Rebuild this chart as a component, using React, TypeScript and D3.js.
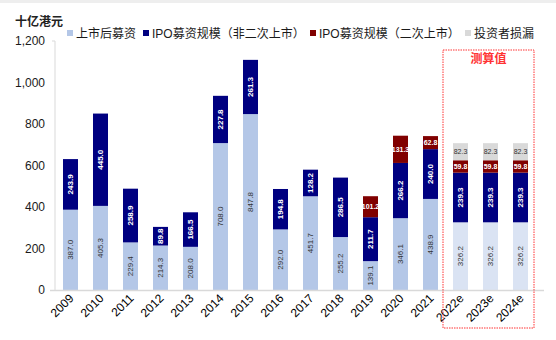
import React from "react";
import * as d3 from "d3";

const years = ["2009","2010","2011","2012","2013","2014","2015","2016","2017","2018","2019","2020","2021","2022e","2023e","2024e"];
const postListing = [387.0,405.3,229.4,214.3,208.0,708.0,847.8,292.0,451.7,255.2,139.1,346.1,438.9,326.2,326.2,326.2];
const ipoPrimary = [243.9,445.0,258.9,89.8,166.5,227.8,261.3,194.8,128.2,286.5,211.7,266.2,240.0,239.3,239.3,239.3];
const ipoSecondary = [0,0,0,0,0,0,0,0,0,0,101.2,131.3,62.8,59.8,59.8,59.8];
const investorLoss = [0,0,0,0,0,0,0,0,0,0,0,0,0,82.3,82.3,82.3];
const yTicks = [0,200,400,600,800,1000,1200];
const seriesNames = ["上市后募资","IPO募资规模（非二次上市）","IPO募资规模（二次上市）","投资者损漏"];
const estimateLabel = "测算值";
const unitLabel = "十亿港元";

const W = 556, H = 340;
const FONT = "'Liberation Sans', Arial, 'Noto Sans CJK SC', sans-serif";

export default function App() {
  const x = d3.scaleBand<string>().domain(years).range([55.5, 535.5]).paddingInner(0.5).paddingOuter(0.25);
  const y = d3.scaleLinear().domain([0, 1200]).range([290, 41]);
  const fmt = d3.format(",");

  const series = [postListing, ipoPrimary, ipoSecondary, investorLoss];
  const stackData = years.map((yr, i) => ({ yr, s0: postListing[i], s1: ipoPrimary[i], s2: ipoSecondary[i], s3: investorLoss[i] }));
  const stack = d3.stack<any>().keys(["s0","s1","s2","s3"])(stackData);

  const colorFor = (k: number, i: number) => {
    const est = years[i].endsWith("e");
    if (k === 0) return est ? "#DAE3F3" : "#B4C7E7";
    if (k === 1) return "#000080";
    if (k === 2) return "#800000";
    return "#D9D9D9";
  };
  const legendColors = ["#B4C7E7", "#000080", "#800000", "#D9D9D9"];
  const legendX = [67, 143, 310, 465];

  const bw = x.bandwidth();
  const boxL = x("2022e")! - 10, boxR = x("2024e")! + bw + 6;

  return (
    <svg width={W} height={H} style={{ position: "absolute", left: 0, top: 0, background: "#fff" }} fontFamily={FONT}>
      <rect x={0} y={0} width={W} height={H} fill="#fff" />
      <rect x={0} y={0} width={W} height={3} fill="#EEEEEE" />
      <text x={15} y={26} fontSize={12} fill="#222" fontWeight="bold">{unitLabel}</text>
      {seriesNames.map((n, k) => (
        <g key={n}>
          <rect x={legendX[k]} y={30} width={6} height={6} fill={legendColors[k]} />
          <text x={legendX[k] + 9} y={37.5} fontSize={12} fill="#1a1a1a">{n}</text>
        </g>
      ))}
      {/* axes */}
      <line x1={55} x2={55} y1={41} y2={290} stroke="#D9D9D9" strokeWidth={1} />
      <line x1={52} x2={55} y1={41} y2={41} stroke="#D9D9D9" strokeWidth={1} />
      {yTicks.map(t => (
        <text key={t} x={45} y={y(t) + 4} fontSize={12} fill="#1a1a1a" textAnchor="end">{fmt(t)}</text>
      ))}
      {/* bars */}
      {stack.map((layer, k) => layer.map((d, i) => {
        const v = series[k][i];
        if (!v) return null;
        const x0 = x(years[i])!;
        const yTop = y(d[1]), yBot = y(d[0]);
        const h = yBot - yTop;
        const cx = x0 + bw / 2, cy = (yTop + yBot) / 2;
        const txtColor = k === 1 || k === 2 ? "#fff" : "#333";
        const horizontal = k >= 2;
        return (
          <g key={k + "-" + i}>
            <rect x={x0} y={yTop} width={bw} height={h} fill={colorFor(k, i)} />
            {horizontal ? (
              <text x={cx} y={cy + 2.6} fontSize={7} fill={txtColor} textAnchor="middle" fontWeight={k === 2 ? "bold" : "normal"}>{v.toFixed(1)}</text>
            ) : (
              <text transform={`translate(${cx + 2.6},${cy}) rotate(-90)`} fontSize={8} fill={txtColor} textAnchor="middle" fontWeight={k === 1 ? "bold" : "normal"}>{v.toFixed(1)}</text>
            )}
          </g>
        );
      }))}
      <line x1={50} x2={544} y1={290.5} y2={290.5} stroke="#D9D9D9" strokeWidth={1.5} />
      {years.map(yr => {
        const cx = x(yr)! + bw / 2;
        return (
          <text key={yr} transform={`translate(${cx + 4},${299}) rotate(-45)`} fontSize={12} fill="#000" textAnchor="end">{yr}</text>
        );
      })}
      <rect x={boxL} y={50} width={boxR - boxL} height={278} fill="none" stroke="#FF3333" strokeWidth={1} strokeDasharray="1.5,1" />
      <text x={(boxL + boxR) / 2} y={63} fontSize={12} fill="#FF3333" fontWeight="bold" textAnchor="middle">{estimateLabel}</text>
    </svg>
  );
}
